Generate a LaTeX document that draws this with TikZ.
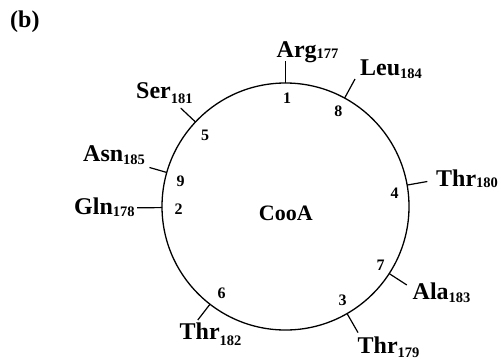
\documentclass[tikz,border=0pt]{standalone}
\usepackage{fontspec}
\setmainfont{Liberation Serif}
\newcommand\reslab[3]{#1\raisebox{-#3pt}{\fontsize{14.5}{14.5}\selectfont #2}}
\begin{document}
\begin{tikzpicture}[x=1pt,y=-1pt,
  lab/.style={anchor=base west, inner sep=0pt, font=\bfseries\fontsize{24}{24}\selectfont},
  num/.style={inner sep=0pt, font=\bfseries\fontsize{16}{16}\selectfont},
  wheelline/.style={line width=1.3pt},
  tickline/.style={line width=1.2pt}]
\useasboundingbox (0,0) rectangle (502,359);
\coordinate (c) at (285.5,206.5);
\node[wheelline, draw, circle, minimum size=247pt, inner sep=0pt] (wheel) at (c) {};
% labels
\node[lab] (lb) at (10,27.5) {(b)};
\node[lab] (arg) at (276.5,57.5) {\reslab{Arg}{177}{1}};
\node[lab] (leu) at (360,75.5) {\reslab{Leu}{184}{3}};
\node[lab] (ser) at (136,98.5) {\reslab{Ser}{181}{5}};
\node[lab] (asn) at (83,161.5) {\reslab{Asn}{185}{3}};
\node[lab] (gln) at (74,214) {\reslab{Gln}{178}{2}};
\node[lab] (thra) at (436,186) {\reslab{Thr}{180}{1.5}};
\node[lab] (ala) at (412.5,299) {\reslab{Ala}{183}{3}};
\node[lab] (thrb) at (357.5,353) {\reslab{Thr}{179}{4}};
\node[lab] (thrc) at (179.5,339.5) {\reslab{Thr}{182}{6}};
\node[font=\bfseries\fontsize{22}{22}\selectfont, inner sep=0pt] (cooa) at (285.8,213.5) {CooA};
% numbers
\node[num] (n1) at (287,98.5) {1};
\node[num] (n2) at (178.5,209.5) {2};
\node[num] (n3) at (342.5,300) {3};
\node[num] (n4) at (394.5,193) {4};
\node[num] (n5) at (205,135) {5};
\node[num] (n6) at (221.7,293.3) {6};
\node[num] (n7) at (380.7,265) {7};
\node[num] (n8) at (338.3,111) {8};
\node[num] (n9) at (180.5,181) {9};
% ticks
\foreach \a/\l/\n in {90/22/a, 61.4/21.7/b, 10/20.5/c, -32.9/21/d, -60.1/21.9/e, 232.3/20/f, 180.5/25/g, 164/18/h, 136.8/20.3/i}{
  \path (c) ++(\a:123.5pt) coordinate (p\n) ++(\a:\l pt) coordinate (q\n);
  \draw[tickline] (p\n) -- (q\n);
}
\end{tikzpicture}
\end{document}
